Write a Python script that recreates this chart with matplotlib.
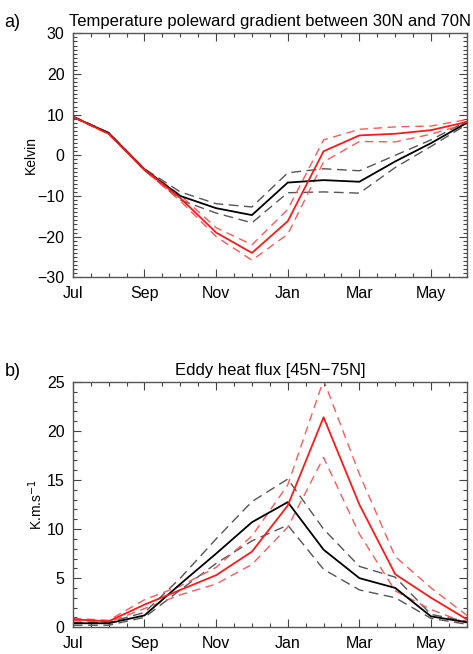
#!/usr/bin/env python
# -*-coding:utf-8-*-
"""Seasonal cycle of temperature gradient and eddy heat flux"""
import numpy as np
import matplotlib.pyplot as plt
from matplotlib.ticker import MultipleLocator

plt.rcParams['font.family'] = ['Liberation Sans', 'DejaVu Sans']

months = ['Jul', 'Aug', 'Sep', 'Oct', 'Nov', 'Dec', 'Jan', 'Feb', 'Mar', 'Apr', 'May', 'Jun']
tick_labels = ['Jul', 'Sep', 'Nov', 'Jan', 'Mar', 'May']

# a) temperature poleward gradient (K)
grad_black = [9.5, 5.5, -3.5, -10.0, -13.0, -14.7, -6.7, -6.1, -6.5, -1.5, 3.0, 8.0]
grad_black_hi = [9.6, 5.6, -3.3, -9.0, -11.9, -12.7, -4.3, -3.3, -3.8, 0.0, 3.8, 8.4]
grad_black_lo = [9.4, 5.4, -3.7, -11.0, -14.2, -16.6, -9.2, -9.0, -9.3, -3.0, 2.2, 7.6]
grad_red = [9.5, 5.3, -3.5, -10.5, -19.0, -24.0, -16.2, 1.0, 4.9, 5.3, 6.2, 8.2]
grad_red_hi = [9.6, 5.4, -3.3, -9.8, -17.8, -22.0, -13.3, 3.8, 6.4, 7.0, 7.2, 8.8]
grad_red_lo = [9.4, 5.2, -3.7, -11.2, -20.0, -25.8, -19.4, -1.6, 3.4, 3.3, 5.2, 7.8]

# b) eddy heat flux 45N-75N (K m/s)
flux_black = [0.4, 0.4, 1.2, 4.4, 7.5, 10.7, 12.75, 7.9, 5.0, 4.0, 1.1, 0.5]
flux_black_hi = [0.5, 0.5, 1.5, 5.0, 9.0, 12.8, 15.1, 10.0, 6.2, 5.1, 1.3, 0.6]
flux_black_lo = [0.2, 0.2, 1.0, 3.8, 6.5, 8.8, 10.4, 5.9, 3.8, 3.0, 0.9, 0.3]
flux_red = [0.8, 0.6, 2.3, 3.8, 5.3, 7.7, 12.4, 21.4, 12.5, 5.4, 3.0, 0.8]
flux_red_hi = [0.9, 0.7, 2.8, 4.2, 6.1, 9.3, 14.5, 25.2, 15.6, 7.2, 4.0, 1.2]
flux_red_lo = [0.7, 0.5, 1.9, 3.3, 4.4, 6.4, 10.2, 17.3, 9.5, 3.7, 1.8, 0.4]

x = np.arange(len(months))


def style_axes(ax, ylim, ymajor, yminor):
    """IDL-like box with inward ticks on all sides"""
    ax.set_xlim(0, len(months) - 1)
    ax.set_ylim(*ylim)
    ax.set_xticks(np.arange(0, len(months), 2))
    ax.set_xticklabels(tick_labels)
    ax.xaxis.set_minor_locator(MultipleLocator(0.5))
    ax.yaxis.set_major_locator(MultipleLocator(ymajor))
    ax.yaxis.set_minor_locator(MultipleLocator(yminor))
    ax.tick_params(which='both', direction='in', top=True, right=True,
                   color='#444444', width=0.8)
    ax.tick_params(which='major', length=6, labelsize=11.5, pad=6)
    ax.tick_params(which='minor', length=3)
    for sp in ax.spines.values():
        sp.set_color('#555555')
        sp.set_linewidth(1.0)


def draw_curves(ax, black, black_hi, black_lo, red, red_hi, red_lo):
    ax.plot(x, black_hi, color='#555555', lw=1.0, ls=(0, (7, 4)))
    ax.plot(x, black_lo, color='#555555', lw=1.0, ls=(0, (7, 4)))
    ax.plot(x, red_hi, color='#ff5a5a', lw=1.0, ls=(0, (6, 4)))
    ax.plot(x, red_lo, color='#ff5a5a', lw=1.0, ls=(0, (6, 4)))
    ax.plot(x, black, color='black', lw=1.3)
    ax.plot(x, red, color='#ff1a1a', lw=1.3)


fig = plt.figure(figsize=(4.73, 6.54), dpi=100)

ax1 = fig.add_axes([0.154, 0.576, 0.833, 0.373])
draw_curves(ax1, grad_black, grad_black_hi, grad_black_lo, grad_red, grad_red_hi, grad_red_lo)
style_axes(ax1, (-30, 30), 10, 1)
ax1.set_ylabel('Kelvin', fontsize=10)
ax1.yaxis.set_label_coords(-0.09, 0.5)
ax1.set_title('Temperature poleward gradient between 30N and 70N', fontsize=12, pad=5)
fig.text(0.01, 0.965, 'a)', fontsize=13, va='center')

ax2 = fig.add_axes([0.154, 0.041, 0.833, 0.375])
draw_curves(ax2, flux_black, flux_black_hi, flux_black_lo, flux_red, flux_red_hi, flux_red_lo)
style_axes(ax2, (0, 25), 5, 1)
ax2.set_ylabel(r'K.m.s$^{-1}$', fontsize=10)
ax2.yaxis.set_label_coords(-0.071, 0.5)
ax2.set_title('Eddy heat flux [45N\u221275N]', fontsize=12, pad=5)
fig.text(0.01, 0.432, 'b)', fontsize=13, va='center')

fig.savefig('out.png', dpi=100)
